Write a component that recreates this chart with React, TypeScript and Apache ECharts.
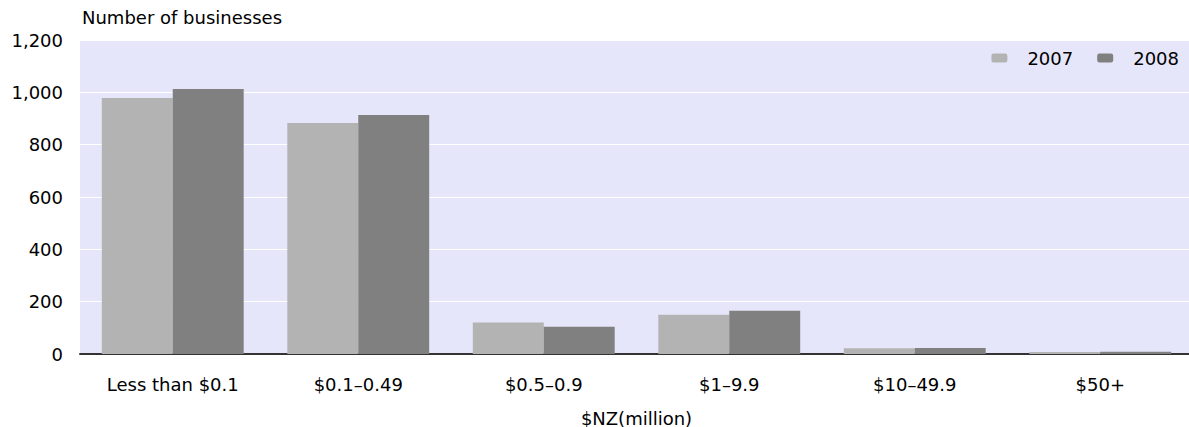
import React, { useEffect, useRef } from "react";
import * as echarts from "echarts";

const categories = ["Less than $0.1", "$0.1–0.49", "$0.5–0.9", "$1–9.9", "$10–49.9", "$50+"];
const values2007 = [978, 883, 120, 150, 22, 8];
const values2008 = [1013, 913, 104, 165, 23, 9];
const yTicks = [0, 200, 400, 600, 800, 1000, 1200];

const FONT = "DejaVu Sans";
const FS = 18;

export default function App() {
  const ref = useRef<HTMLDivElement>(null);
  useEffect(() => {
    document.body.style.margin = "0";
    const chart = echarts.init(ref.current!, undefined, { renderer: "svg" });
    chart.setOption({
      animation: false,
      title: {
        text: "Number of businesses",
        left: 77,
        top: 3,
        textStyle: { fontFamily: FONT, fontSize: FS, fontWeight: "normal", color: "#000" },
      },
      legend: {
        right: 5,
        top: 44,
        itemWidth: 16,
        itemHeight: 9,
        itemGap: 24,
        textStyle: { fontFamily: FONT, fontSize: FS, color: "#000", padding: [0, 0, 0, 15] },
        data: ["2007", "2008"],
      },
      grid: {
        left: 80,
        top: 40,
        width: 1113,
        bottom: 73,
        show: true,
        backgroundColor: "#e6e6fa",
        borderWidth: 0,
        containLabel: false,
        outerBoundsMode: "none",
      },
      xAxis: {
        type: "category",
        data: categories,
        name: "$NZ(million)",
        nameLocation: "middle",
        nameGap: 55,
        nameTextStyle: { fontFamily: FONT, fontSize: FS, color: "#000" },
        axisLine: { lineStyle: { color: "#333", width: 2 } },
        axisTick: { show: false },
        axisLabel: { fontFamily: FONT, fontSize: FS, color: "#000", margin: 21 },
      },
      yAxis: {
        type: "value",
        min: yTicks[0],
        max: yTicks[yTicks.length - 1],
        interval: 200,
        axisLine: { show: false },
        axisTick: { show: false },
        axisLabel: {
          fontFamily: FONT,
          fontSize: FS,
          color: "#000",
          margin: 17,
          formatter: (v: number) => v.toLocaleString("en-US"),
        },
        splitLine: { lineStyle: { color: "#ffffff", width: 1 } },
      },
      series: [
        {
          name: "2007",
          type: "bar",
          data: values2007,
          barGap: "0%",
          barCategoryGap: "23.5%",
          itemStyle: { color: "#b3b3b3" },
        },
        {
          name: "2008",
          type: "bar",
          data: values2008,
          barGap: "0%",
          barCategoryGap: "23.5%",
          itemStyle: { color: "#808080" },
        },
      ],
    });
    return () => chart.dispose();
  }, []);
  return <div ref={ref} style={{ width: 1189, height: 427 }} />;
}
